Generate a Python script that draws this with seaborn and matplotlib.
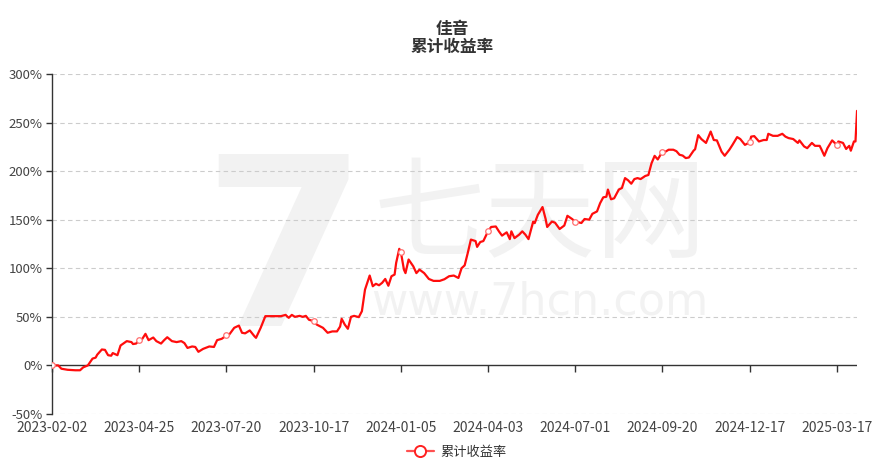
import matplotlib
matplotlib.use("Agg")
import matplotlib.pyplot as plt
from matplotlib.lines import Line2D
import seaborn as sns
import pandas as pd

# --- Data (trading-day index, cumulative return in %) ---
day_idx = [0, 4, 6, 10, 15, 18, 20, 23, 26, 28, 29, 32, 34, 36, 38, 39, 42, 44, 48, 51,
           52, 54, 56, 58, 60, 62, 65, 67, 70, 72, 74, 77, 80, 83, 85, 87, 90, 92, 94, 97,
           101, 104, 106, 109, 112, 113, 117, 120, 122, 124, 127, 130, 131, 134, 137, 141, 147, 150, 152, 154,
           156, 159, 161, 163, 165, 168, 170, 174, 177, 180, 183, 185, 186, 188, 190, 192, 194, 197, 199, 201,
           204, 206, 208, 210, 212, 214, 216, 218, 220, 221, 223, 224, 226, 227, 229, 232, 234, 236, 239, 242,
           245, 249, 252, 255, 258, 261, 263, 265, 267, 269, 272, 273, 275, 277, 280, 282, 285, 287, 289, 292,
           294, 295, 297, 300, 302, 304, 306, 309, 310, 312, 315, 317, 318, 321, 323, 326, 329, 331, 334, 336,
           340, 342, 345, 347, 350, 352, 354, 356, 357, 359, 361, 364, 366, 368, 370, 372, 374, 376, 378, 381,
           383, 385, 387, 389, 392, 393, 396, 399, 401, 403, 405, 407, 409, 412, 413, 415, 417, 420, 423, 425,
           427, 430, 432, 435, 437, 440, 442, 445, 448, 449, 451, 454, 457, 459, 460, 463, 466, 469, 471, 473,
           476, 479, 480, 483, 485, 488, 490, 493, 494, 496, 498, 501, 504, 505, 508, 510, 512, 513, 515, 516,
           517]
cum_return = [0, 0, -3.4, -4.5, -5, -5, -2, 0, 7, 8, 11, 16.4, 16, 10.5, 10, 12.7, 10.5, 20.5, 25, 24,
              22, 22.5, 26, 27.4, 32.5, 26, 28.7, 25, 22.5, 26, 29, 25, 24, 25, 23, 18, 19.5, 19, 14, 17,
              19.5, 19, 26, 27.4, 30.8, 30, 38.7, 41, 33.6, 33, 36, 30, 28.4, 38.7, 50.7, 50.7, 50.7, 52, 49, 52,
              50, 51, 50, 51, 47, 45.5, 42, 38.7, 33.6, 35, 35, 40, 48, 42, 37.7, 50, 51, 49.7, 55.8, 78,
              92.5, 81.5, 84, 82.5, 85, 89, 82, 91.8, 93.5, 105.5, 120, 117, 98.6, 95, 109, 102, 95, 98.6, 95, 89,
              87, 87, 88.7, 91.8, 92.5, 90, 100, 103, 115.8, 129.5, 128, 122, 127, 128, 138, 142.5, 143, 138, 133.6, 137,
              130, 138, 131, 134.6, 138, 134.6, 130, 148, 146.5, 155, 163, 150.7, 142.5, 148, 147, 140.4, 144, 154, 150.7, 148,
              146.6, 150.7, 150, 156, 158.5, 167, 173, 173.6, 181, 171, 172, 181, 182.6, 192.8, 190.5, 187, 191.8, 192.8, 191.8, 195,
              196, 208, 215.7, 212, 220, 219, 222, 222, 220.5, 216.8, 216, 213.4, 214, 221, 222.5, 237, 233, 229, 240.7, 232,
              231.6, 220, 215.8, 222, 227, 235, 233, 227, 229.5, 235.5, 236, 230.5, 232, 232, 238.4, 236.3, 236.3, 238.4, 235.5, 234,
              233, 229, 231.6, 225.4, 223.6, 229, 226, 226, 222.8, 215.8, 223.6, 231.6, 227, 230.5, 229, 222.8, 226, 221, 230.5, 230.5,
              262]

tick_idx = [0, 56, 112, 168, 224, 280, 336, 392, 448, 504]
tick_labels = ["2023-02-02", "2023-04-25", "2023-07-20", "2023-10-17", "2024-01-05",
               "2024-04-03", "2024-07-01", "2024-09-20", "2024-12-17", "2025-03-17"]
y_ticks = [-50, 0, 50, 100, 150, 200, 250, 300]

fund_name = "佳音"
series_name = "累计收益率"

sns.set_style("white")
plt.rcParams['font.family'] = ['Noto Sans CJK SC', 'DejaVu Sans']

df = pd.DataFrame({'day': day_idx, 'ret': cum_return})
marker_pos = [day_idx.index(t) for t in tick_idx]

fig, ax = plt.subplots(figsize=(8.82, 4.68), dpi=100)
fig.subplots_adjust(left=0.059, right=0.9717, bottom=0.1154, top=0.842)

# watermark
wm = '#f2f2f2'
ax.text(0.289, 0.45, "7", transform=ax.transAxes, fontsize=170, fontweight='bold',
        color=wm, ha='center', va='center', zorder=0, family='DejaVu Sans')
ax.text(0.606, 0.58, "七天网", transform=ax.transAxes, fontsize=80, color=wm,
        ha='center', va='center', zorder=0)
ax.text(0.606, 0.33, "www.7hcn.com", transform=ax.transAxes, fontsize=32, color=wm,
        ha='center', va='center', zorder=0, family='DejaVu Sans')

sns.lineplot(data=df, x='day', y='ret', ax=ax, color='#ff0d0d', linewidth=1.6,
             estimator=None, marker='o', markersize=4, markerfacecolor='white',
             markeredgecolor='#ff7070', markeredgewidth=0.9, markevery=marker_pos,
             zorder=3, legend=False)

ax.set_xlim(0, day_idx[-1])
ax.set_ylim(-50, 300)
ax.set_yticks(y_ticks)
ax.set_yticklabels([f"{v}%" for v in y_ticks])
ax.set_xticks(tick_idx)
ax.set_xticklabels(tick_labels)
ax.set_xlabel("")
ax.set_ylabel("")

for v in y_ticks:
    if v != 0:
        ax.axhline(v, color='#cccccc', linestyle=(0, (4, 3)), linewidth=0.8, zorder=1)
ax.axhline(0, color='#333333', linewidth=1.0, zorder=2)
ax.plot(tick_idx, [0] * len(tick_idx), linestyle='none', marker=3, markersize=5,
        color='#333333', markeredgewidth=1.0, zorder=2, clip_on=False)

for s in ['top', 'right', 'bottom']:
    ax.spines[s].set_visible(False)
ax.spines['left'].set_color('#333333')
ax.spines['left'].set_linewidth(1.0)

ax.tick_params(axis='x', length=0, pad=5, labelsize=10, labelcolor='#444444')
ax.tick_params(axis='y', length=4, width=1.0, color='#333333', pad=3, labelsize=9.5,
               labelcolor='#444444', left=True)

fig.text(0.513, 0.937, fund_name, ha='center', va='center', fontsize=12,
         fontweight='bold', color='#333333')
fig.text(0.513, 0.899, series_name, ha='center', va='center', fontsize=12,
         fontweight='bold', color='#333333')

handle = Line2D([], [], color='#ff5050', linewidth=1.6, marker='o', markersize=8,
                markerfacecolor='white', markeredgecolor='#ff2020', markeredgewidth=1.4)
fig.legend([handle], [series_name], loc='center', bbox_to_anchor=(0.518, 0.034),
           frameon=False, fontsize=9.5, handlelength=2.0, handletextpad=0.5,
           labelcolor='#333333')

fig.savefig("out.png", dpi=100)
plt.close(fig)
